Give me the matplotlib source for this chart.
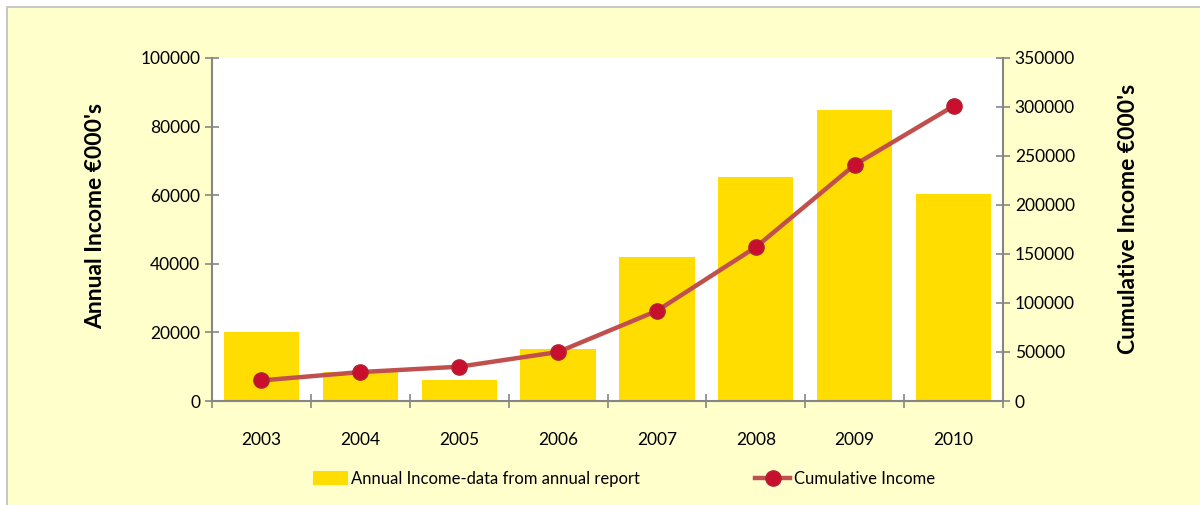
import matplotlib.pyplot as plt
import matplotlib as mpl
from matplotlib.patches import Rectangle
import numpy as np

years = ['2003', '2004', '2005', '2006', '2007', '2008', '2009', '2010']
annual_income = [20000, 8500, 6000, 15200, 42000, 65300, 84800, 60300]
cumulative_income = [21000, 29500, 35000, 50000, 92000, 157000, 241000, 301000]

mpl.rcParams['font.family'] = ['Lato', 'DejaVu Sans']

fig = plt.figure(figsize=(12, 5.05), dpi=100, facecolor='white')
# yellow chart area with grey border
fig.patches.append(Rectangle((7 / 1200, -0.01), 1, 1 - 7 / 505 + 0.01, transform=fig.transFigure,
                             facecolor='#FFFFCC', edgecolor='#BFBFBF', linewidth=1.2, zorder=-5))

ax = fig.add_axes([212 / 1200, 104 / 505, 791 / 1200, 343 / 505])
ax.set_facecolor('white')
x = np.arange(len(years))
ax.bar(x, annual_income, width=0.76, color='#FFDD00', zorder=2,
       label='Annual Income-data from annual report')
ax.set_xlim(-0.5, len(years) - 0.5)
ax.set_ylim(0, 100000)
ax.set_yticks(range(0, 100001, 20000))
ax.set_xticks(x)
ax.set_xticklabels(years)
ax.set_xticks(np.arange(-0.5, len(years), 1), minor=True)
ax.tick_params(axis='x', which='major', length=0, pad=22, labelsize=12.5)
ax.tick_params(axis='x', which='minor', length=10, direction='inout', color='#868686', width=1.2)
ax.tick_params(axis='y', length=10, direction='inout', color='#868686', width=1.2, labelsize=12.5)
for s in ['top', 'right']:
    ax.spines[s].set_visible(False)
for s in ['left', 'bottom']:
    ax.spines[s].set_color('#868686')
    ax.spines[s].set_linewidth(1.5)
ax.set_ylabel("Annual Income €000's", fontsize=16.5, fontweight='bold')
ax.yaxis.set_label_coords(-0.134, 0.54)

ax2 = ax.twinx()
ax2.plot(x, cumulative_income, color='#C0504D', linewidth=3.2, marker='o', markersize=11,
         markerfacecolor='#C8102E', markeredgecolor='#B22234', markeredgewidth=1, zorder=3,
         label='Cumulative Income')
ax2.set_ylim(0, 350000)
ax2.set_yticks(range(0, 350001, 50000))
ax2.tick_params(axis='y', length=10, direction='inout', color='#868686', width=1.2, labelsize=12.5)
for s in ['top', 'left', 'bottom']:
    ax2.spines[s].set_visible(False)
ax2.spines['right'].set_color('#868686')
ax2.spines['right'].set_linewidth(1.5)
ax2.set_ylabel("Cumulative Income €000's", fontsize=16.5, fontweight='bold')
ax2.yaxis.set_label_coords(1.145, 0.53)

h1, l1 = ax.get_legend_handles_labels()
h2, l2 = ax2.get_legend_handles_labels()
fig.legend(h1 + h2, l1 + l2, ncol=2, loc='center left', bbox_to_anchor=(313 / 1200, 26 / 505),
           frameon=False, fontsize=12, handlelength=2.1, handleheight=0.9, handletextpad=0.2,
           columnspacing=6.9, borderpad=0, borderaxespad=0)

plt.savefig('out.png', dpi=100, facecolor=fig.get_facecolor())
